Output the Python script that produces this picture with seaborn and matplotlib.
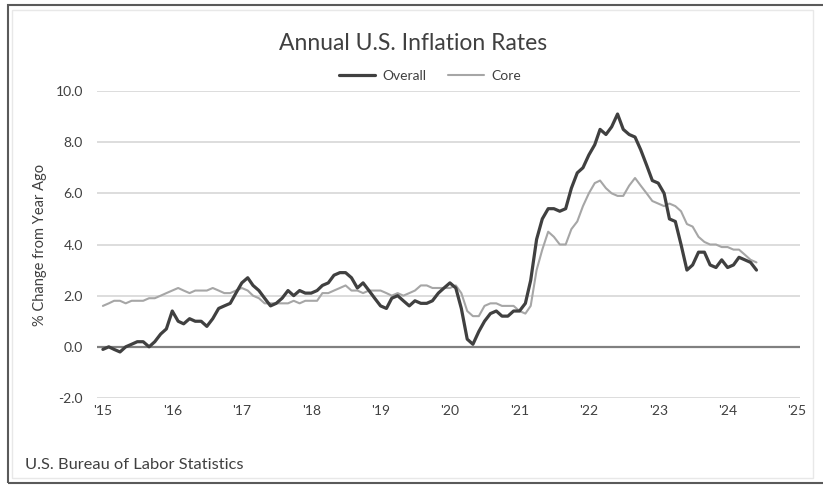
import numpy as np
import pandas as pd
import matplotlib
matplotlib.use("Agg")
import matplotlib.pyplot as plt
from matplotlib.patches import Rectangle
from matplotlib.lines import Line2D
import seaborn as sns

# ---- data (monthly YoY % change, Jan 2015 - Jun 2024) ----
overall = [
    -0.1, 0.0, -0.1, -0.2, 0.0, 0.1, 0.2, 0.2, 0.0, 0.2, 0.5, 0.7,
    1.4, 1.0, 0.9, 1.1, 1.0, 1.0, 0.8, 1.1, 1.5, 1.6, 1.7, 2.1,
    2.5, 2.7, 2.4, 2.2, 1.9, 1.6, 1.7, 1.9, 2.2, 2.0, 2.2, 2.1,
    2.1, 2.2, 2.4, 2.5, 2.8, 2.9, 2.9, 2.7, 2.3, 2.5, 2.2, 1.9,
    1.6, 1.5, 1.9, 2.0, 1.8, 1.6, 1.8, 1.7, 1.7, 1.8, 2.1, 2.3,
    2.5, 2.3, 1.5, 0.3, 0.1, 0.6, 1.0, 1.3, 1.4, 1.2, 1.2, 1.4,
    1.4, 1.7, 2.6, 4.2, 5.0, 5.4, 5.4, 5.3, 5.4, 6.2, 6.8, 7.0,
    7.5, 7.9, 8.5, 8.3, 8.6, 9.1, 8.5, 8.3, 8.2, 7.7, 7.1, 6.5,
    6.4, 6.0, 5.0, 4.9, 4.0, 3.0, 3.2, 3.7, 3.7, 3.2, 3.1, 3.4,
    3.1, 3.2, 3.5, 3.4, 3.3, 3.0,
]
core = [
    1.6, 1.7, 1.8, 1.8, 1.7, 1.8, 1.8, 1.8, 1.9, 1.9, 2.0, 2.1,
    2.2, 2.3, 2.2, 2.1, 2.2, 2.2, 2.2, 2.3, 2.2, 2.1, 2.1, 2.2,
    2.3, 2.2, 2.0, 1.9, 1.7, 1.7, 1.7, 1.7, 1.7, 1.8, 1.7, 1.8,
    1.8, 1.8, 2.1, 2.1, 2.2, 2.3, 2.4, 2.2, 2.2, 2.1, 2.2, 2.2,
    2.2, 2.1, 2.0, 2.1, 2.0, 2.1, 2.2, 2.4, 2.4, 2.3, 2.3, 2.3,
    2.3, 2.4, 2.1, 1.4, 1.2, 1.2, 1.6, 1.7, 1.7, 1.6, 1.6, 1.6,
    1.4, 1.3, 1.6, 3.0, 3.8, 4.5, 4.3, 4.0, 4.0, 4.6, 4.9, 5.5,
    6.0, 6.4, 6.5, 6.2, 6.0, 5.9, 5.9, 6.3, 6.6, 6.3, 6.0, 5.7,
    5.6, 5.5, 5.6, 5.5, 5.3, 4.8, 4.7, 4.3, 4.1, 4.0, 4.0, 3.9,
    3.9, 3.8, 3.8, 3.6, 3.4, 3.3,
]
series_names = ["Overall", "Core"]
tick_years = list(range(2015, 2026))
tick_labels = ["'15", "'16", "'17", "'18", "'19", "'20", "'21", "'22", "'23", "'24", "'25"]
y_ticks = [-2.0, 0.0, 2.0, 4.0, 6.0, 8.0, 10.0]

dates = pd.date_range("2015-01-01", periods=len(overall), freq="MS")
df = pd.concat([
    pd.DataFrame({"date": dates, "value": overall, "series": series_names[0]}),
    pd.DataFrame({"date": dates, "value": core, "series": series_names[1]}),
])

sns.set_theme(style="white")
FONT = ["Lato", "DejaVu Sans"]
plt.rcParams["font.family"] = FONT
TXT = "#404040"

fig = plt.figure(figsize=(8.23, 4.87), dpi=100)
ax = fig.add_axes([97 / 823, 1 - 398 / 487, 703 / 823, 307 / 487])

palette = {"Overall": "#404040", "Core": "#a6a6a6"}
widths = {"Overall": 2.3, "Core": 1.5}
sns.lineplot(data=df, x="date", y="value", hue="series", palette=palette,
             hue_order=series_names, ax=ax, legend=False)
for line, name in zip(ax.lines[:2], series_names):
    line.set_linewidth(widths[name])
ax.lines[0].set_zorder(4)
ax.lines[1].set_zorder(3)

ax.set_ylim(-2, 10)
ax.set_xlim(pd.Timestamp("2014-12-01"), pd.Timestamp("2025-01-16"))
ax.set_yticks(y_ticks)
ax.set_yticklabels([f"{v:.1f}" for v in y_ticks], fontsize=10, color=TXT)
ax.set_xticks([pd.Timestamp(f"{y}-01-01") for y in tick_years])
ax.set_xticklabels(tick_labels, fontsize=10, color=TXT)
ax.tick_params(axis="y", length=0, pad=10)
ax.tick_params(axis="x", length=0, pad=5)

for y in y_ticks:
    if y == 0:
        ax.axhline(y, color="#808080", lw=1.6, zorder=2)
    else:
        ax.axhline(y, color="#dadada", lw=1.3, zorder=1)
for s in ax.spines.values():
    s.set_visible(False)

ax.set_xlabel("")
ax.set_ylabel("% Change from Year Ago", fontsize=10.5, color=TXT, labelpad=6)

fig.text(413 / 823, 1 - 44 / 487, "Annual U.S. Inflation Rates", ha="center", va="center",
         fontsize=16.5, color=TXT)

handles = [Line2D([], [], color=palette[n], lw=widths[n]) for n in series_names]
fig.legend(handles, series_names, loc="center", bbox_to_anchor=(430 / 823, 1 - 76 / 487),
           ncol=2, frameon=False, fontsize=10, handlelength=2.6, columnspacing=1.6,
           handletextpad=0.5, labelcolor=TXT)

fig.text(25 / 823, 1 - 465 / 487, "U.S. Bureau of Labor Statistics", ha="left", va="center",
         fontsize=11.8, color=TXT)

# outer frames
fig.patches.append(Rectangle((8 / 823, 4 / 487), 1.2, 478 / 487, transform=fig.transFigure,
                             fill=False, edgecolor="#5a5a5a", lw=1.5, figure=fig))
fig.patches.append(Rectangle((12 / 823, 9 / 487), 801 / 823, 468 / 487, transform=fig.transFigure,
                             fill=False, edgecolor="#e8e8e8", lw=1.0, figure=fig))

fig.savefig("out.png", dpi=100)
